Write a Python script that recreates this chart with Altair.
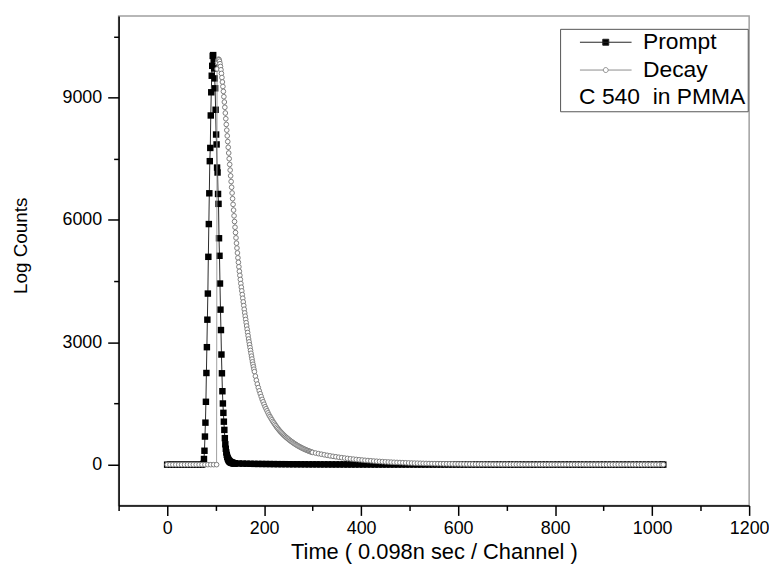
import altair as alt
import pandas as pd

# ---------------- data ----------------
SERIES = ["Prompt", "Decay"]

# Prompt (instrument response), channels and counts
PROMPT_CHANNELS = (list(range(0, 75, 6)) + list(range(75, 141))
                   + list(range(148, 1021, 8)) + [1023])
PROMPT_COUNTS = (
    [0, 0, 0, 0, 0, 0, 0, 0, 0, 0, 0, 0, 0]
    # 75 .. 94 rising edge
    + [20, 139, 341, 689, 1030, 1541, 2247, 2880, 3554, 4194,
       5095, 5898, 6652, 7440, 7764, 8560, 9128, 9534, 9777, 10020]
    # 95 .. 140 falling edge
    + [10040, 9900, 9712, 9469, 9226, 8700, 8093, 7850, 7283, 7162,
       6636, 6393, 5550, 5120, 4440, 3800, 3300, 2700, 2240, 1800,
       1500, 1270, 1054, 852, 650, 500, 390, 300, 240, 190,
       155, 128, 106, 90, 78, 68, 60, 54, 49, 45,
       41, 38, 36, 34, 32, 31]
    # 148 .. 1020 (every 8) and 1023
    + [28, 25, 23, 21, 19, 18, 17, 16, 15, 14,
       13, 12, 12, 11, 10, 10, 9, 9, 8, 8,
       8, 7, 7, 7, 6, 6, 6, 6, 5, 5,
       5, 5, 5, 5, 5, 4, 4, 4, 4, 4,
       4, 4, 4, 4, 4, 4, 3, 3, 3, 3,
       3, 3, 3, 3, 3, 3, 3, 3, 3, 3,
       3, 3, 3, 2, 2, 2, 2, 2, 2, 2,
       2, 2, 2, 2, 2, 2, 2, 2, 2, 2,
       2, 2, 2, 2, 2, 2, 2, 2, 1, 1,
       1, 1, 1, 1, 1, 1, 1, 1, 1, 1,
       1, 1, 1, 1, 1, 1, 1, 1, 1, 1,
       1]
)

# Decay (C 540 in PMMA), channels and counts
DECAY_CHANNELS = (list(range(0, 103, 6)) + list(range(103, 181))
                  + list(range(182, 301, 2)) + list(range(306, 1021, 6)) + [1023])
DECAY_COUNTS = (
    [0, 0, 0, 0, 0, 0, 0, 0, 0, 0, 0, 0, 0, 0, 0, 0, 0, 0]
    # 103 .. 180
    + [9700, 9860, 9920, 9940, 9930, 9890, 9830, 9760, 9680, 9590,
       9490, 9380, 9270, 9150, 9020, 8890, 8760, 8620, 8480, 8340,
       8200, 8060, 7920, 7780, 7640, 7500, 7360, 7220, 7080, 6940,
       6800, 6660, 6520, 6380, 6240, 6100, 5960, 5820, 5690, 5560,
       5430, 5310, 5190, 5070, 4960, 4850, 4740, 4640, 4540, 4440,
       4350, 4260, 4170, 4080, 3990, 3900, 3810, 3720, 3640, 3560,
       3480, 3400, 3320, 3240, 3160, 3080, 3010, 2940, 2870, 2800,
       2730, 2660, 2590, 2520, 2460, 2400, 2340, 2280]
    # 182 .. 300 (every 2)
    + [2170, 2070, 1975, 1890, 1810, 1740, 1670, 1600, 1540, 1480,
       1420, 1370, 1320, 1270, 1220, 1180, 1140, 1100, 1060, 1025,
       990, 955, 920, 890, 860, 830, 805, 780, 755, 730,
       708, 686, 665, 645, 625, 606, 588, 570, 553, 536,
       520, 504, 489, 474, 460, 447, 434, 421, 409, 397,
       386, 375, 364, 354, 344, 335, 326, 317, 308, 300]
    # 306 .. 1020 (every 6) and 1023
    + [285, 270, 256, 242, 229, 216, 204, 193, 182, 172,
       162, 153, 144, 136, 128, 121, 114, 107, 101, 95,
       89, 84, 79, 74, 70, 66, 62, 58, 55, 52,
       49, 46, 43, 40, 38, 36, 34, 32, 30, 28,
       26, 25, 23, 22, 21, 20, 19, 18, 17, 16,
       15, 14, 13, 13, 12, 11, 11, 10, 10, 9,
       9, 8, 8, 8, 7, 7, 7, 6, 6, 6,
       6, 5, 5, 5, 5, 5, 4, 4, 4, 4,
       4, 4, 4, 3, 3, 3, 3, 3, 3, 3,
       3, 3, 3, 2, 2, 2, 2, 2, 2, 2,
       2, 2, 2, 2, 2, 2, 2, 2, 2, 1,
       1, 1, 1, 1, 1, 1, 1, 1, 1, 1,
       1]
)

X_TICKS = list(range(-100, 1201, 100))
Y_TICKS = list(range(0, 10501, 1500))
LEGEND_NOTE = "\u2800C 540 \u00a0in PMMA"

assert len(PROMPT_CHANNELS) == len(PROMPT_COUNTS), (len(PROMPT_CHANNELS), len(PROMPT_COUNTS))
assert len(DECAY_CHANNELS) == len(DECAY_COUNTS), (len(DECAY_CHANNELS), len(DECAY_COUNTS))

prompt_df = pd.DataFrame({"channel": PROMPT_CHANNELS, "counts": PROMPT_COUNTS})
decay_df = pd.DataFrame({"channel": DECAY_CHANNELS, "counts": DECAY_COUNTS})
legend_df = pd.DataFrame({"series": SERIES})

FONT = "Liberation Sans"

xscale = alt.Scale(domain=[-100, 1200], nice=False, zero=False)
yscale = alt.Scale(domain=[-1000, 11000], nice=False, zero=False)

xaxis = alt.Axis(
    values=X_TICKS, format="d",
    labelExpr="datum.value % 200 == 0 ? datum.label : ''",
    tickSize={"condition": {"test": "datum.value % 200 == 0", "value": 10}, "value": 5},
    labelPadding=4, labelFlush=False, labelOverlap=False,
    title="Time ( 0.098n sec / Channel )", titleFontSize=22, titlePadding=4,
)
yaxis = alt.Axis(
    values=Y_TICKS, format="d",
    labelExpr="datum.value % 3000 == 0 ? datum.label : ''",
    tickSize={"condition": {"test": "datum.value % 3000 == 0", "value": 11}, "value": 5},
    labelPadding=6, labelFlush=False, labelOverlap=False,
    title="Log Counts", titleFontSize=19, titlePadding=32, titleY=231,
)

X = alt.X("channel:Q", scale=xscale, axis=xaxis)
Y = alt.Y("counts:Q", scale=yscale, axis=yaxis)

p_line = alt.Chart(prompt_df).mark_line(color="#2a2a2a", strokeWidth=1).encode(x=X, y=Y)
p_pts = alt.Chart(prompt_df).mark_point(
    shape="square", filled=True, color="black", size=42, opacity=1
).encode(x=X, y=Y)
d_line = alt.Chart(decay_df).mark_line(color="#a0a0a0", strokeWidth=1).encode(x=X, y=Y)
d_pts = alt.Chart(decay_df).mark_point(
    shape="circle", filled=False, fill="white", fillOpacity=1,
    stroke="#7e7e7e", strokeWidth=1, size=22, opacity=1
).encode(x=X, y=Y)

PATH_PROMPT = "M-5.2,0L5.2,0M-0.6,-0.6L0.6,-0.6L0.6,0.6L-0.6,0.6Z"
PATH_DECAY = ("M-5.2,0L-0.5,0M0.5,0L5.2,0"
              "M-0.5,0A0.5,0.5,0,1,0,0.5,0A0.5,0.5,0,1,0,-0.5,0Z")

leg = alt.Legend(
    title=LEGEND_NOTE, titleOrient="bottom", titleAnchor="start",
    titleFont=FONT, titleFontSize=23, titleFontWeight="normal", titleColor="black",
    titlePadding=4, titleLimit=400,
    labelFont=FONT, labelFontSize=23, labelColor="black", labelLimit=400, labelAlign="left",
    symbolSize=100, symbolStrokeWidth=1, symbolOffset=32.5, labelOffset=26,
    rowPadding=4, padding=2, strokeColor="#555555", fillColor="white",
    cornerRadius=0, orient="none", legendX=444.6, legendY=13,
)
legend_layer = alt.Chart(legend_df).mark_point(filled=True, opacity=1).encode(
    shape=alt.Shape("series:N", scale=alt.Scale(domain=SERIES, range=[PATH_PROMPT, PATH_DECAY]), legend=leg),
    fill=alt.Fill("series:N", scale=alt.Scale(domain=SERIES, range=["black", "white"]), legend=leg),
    stroke=alt.Stroke("series:N", scale=alt.Scale(domain=SERIES, range=["#222222", "#8c8c8c"]), legend=leg),
).transform_filter("false")

chart = alt.layer(p_line, p_pts, d_line, d_pts, legend_layer).properties(
    width=635, height=493,
    padding={"left": 111.4, "top": 6, "right": 20, "bottom": 61},
    autosize=alt.AutoSizeParams(type="none"),
).configure_view(
    stroke="#a0a0a0", strokeWidth=1.5
).configure_axis(
    grid=False, domainColor="black", domainWidth=1.5, tickColor="black", tickWidth=1.5,
    labelFont=FONT, labelFontSize=18, labelColor="black",
    titleFont=FONT, titleFontWeight="normal", titleColor="black",
)

chart.save("out.html", embed_options={"renderer": "svg", "actions": False})
